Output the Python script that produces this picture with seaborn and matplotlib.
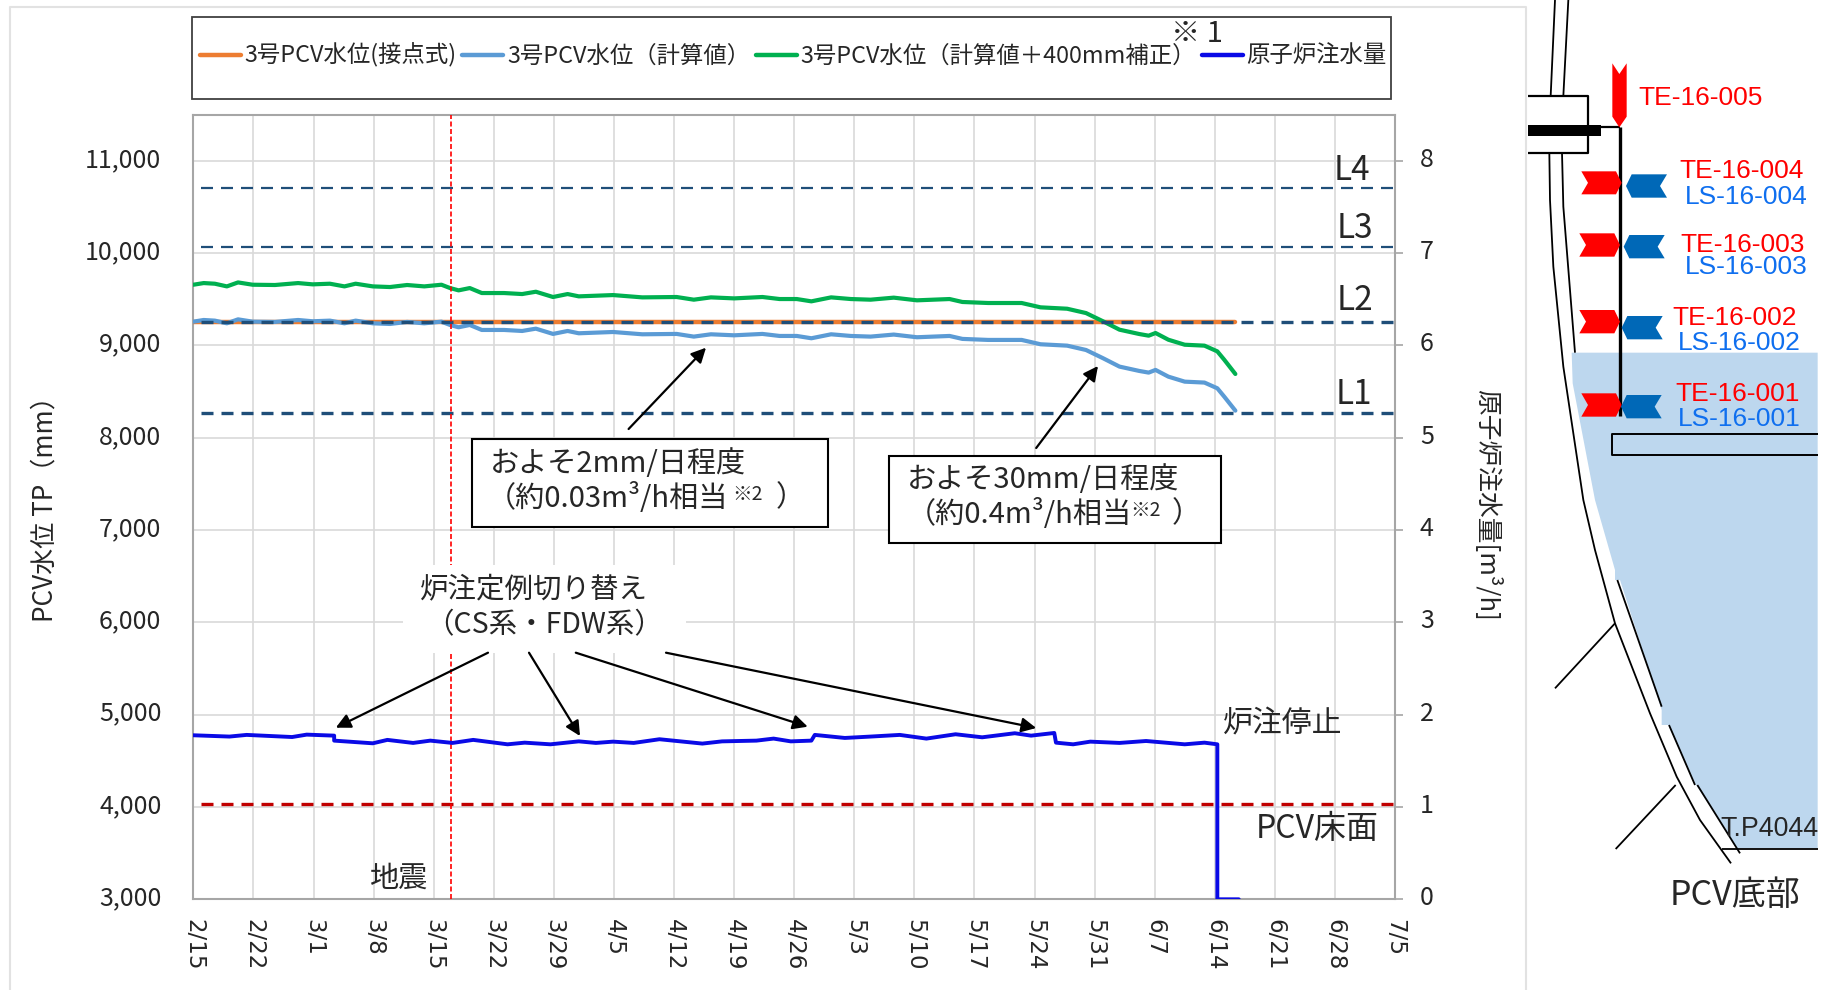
import matplotlib
matplotlib.use("Agg")
import matplotlib.pyplot as plt
from matplotlib.patches import Polygon, Rectangle
from matplotlib.transforms import ScaledTranslation
import pandas as pd
import seaborn as sns

# ---------- data ----------
START = "2021-02-15"
calc_days = [0, 1.2, 2.5, 3.9, 5.2, 6.9, 9.5, 12.2, 13.9, 15.9, 17.6, 18.9, 20.9, 22.9, 24.9, 26.9, 28.9, 29.9,
             30.9, 32.2, 33.6, 36.2, 38.3, 39.9, 41.9, 43.6, 44.9, 48.9, 52.3, 56.3, 58.3, 60.3, 63, 66.3, 68.3,
             70.3, 72, 74.3, 76.6, 78.9, 81.6, 84.3, 88.1, 89.6, 92.6, 96.5, 98.7, 101.8, 104, 106, 107.9, 110.2,
             111.3, 112.1, 113.6, 115.5, 117.8, 119.3, 120.1, 121.4]
calc_level = [9258, 9276, 9269, 9240, 9283, 9258, 9255, 9276, 9262, 9269, 9240, 9269, 9240, 9233, 9255, 9240, 9258, 9222,
              9197, 9222, 9168, 9168, 9157, 9182, 9125, 9157, 9132, 9146, 9121, 9125, 9096, 9121, 9110, 9125, 9103,
              9103, 9078, 9121, 9103, 9096, 9118, 9089, 9103, 9071, 9060, 9060, 9013, 8998, 8951, 8861, 8771, 8724,
              8706, 8735, 8662, 8608, 8598, 8536, 8446, 8294]
corrected_level = [9658, 9676, 9669, 9640, 9683, 9658, 9655, 9676, 9662, 9669, 9640, 9669, 9640, 9633, 9655, 9640, 9658, 9622,
                   9597, 9622, 9568, 9568, 9557, 9582, 9525, 9557, 9532, 9546, 9521, 9525, 9496, 9521, 9510, 9525, 9503,
                   9503, 9478, 9521, 9503, 9496, 9518, 9489, 9503, 9471, 9460, 9460, 9413, 9398, 9351, 9261, 9171, 9124,
                   9106, 9135, 9062, 9008, 8998, 8936, 8846, 8691]
contact_days = [0, 121.4]
contact_level = [9250, 9250]
flow_days = [0, 4.2, 6.2, 11.5, 13.2, 16.4, 16.4, 20.9, 22.6, 25.6, 27.6, 30.2, 32.6, 36.6, 38.6, 41.6, 44.9, 46.9, 48.9,
             51.3, 54.3, 59.3, 61.6, 65.6, 67.6, 69.6, 72, 72.4, 75.9, 78.9, 82.3, 85.4, 88.8, 91.9, 95.7, 97.6, 100.3,
             100.5, 102.5, 104.5, 107.9, 111, 115.5, 117.8, 119.3, 119.3, 121.8]
flow_rate = [1.777, 1.763, 1.781, 1.758, 1.784, 1.773, 1.719, 1.690, 1.727, 1.694, 1.719, 1.694, 1.727, 1.679, 1.697, 1.679,
             1.711, 1.694, 1.708, 1.694, 1.734, 1.687, 1.711, 1.719, 1.741, 1.711, 1.719, 1.781, 1.748, 1.763, 1.781, 1.741,
             1.788, 1.755, 1.799, 1.773, 1.802, 1.697, 1.679, 1.708, 1.694, 1.715, 1.679, 1.697, 1.679, 0, 0]
level_values = [8268, 9254, 10067, 10706]
level_names = ["L1", "L2", "L3", "L4"]
floor_level = 4032
quake_day = 30
tick_labels = ["2/15", "2/22", "3/1", "3/8", "3/15", "3/22", "3/29", "4/5", "4/12", "4/19", "4/26",
               "5/3", "5/10", "5/17", "5/24", "5/31", "6/7", "6/14", "6/21", "6/28", "7/5"]
series_names = ["3号PCV水位(接点式)", "3号PCV水位（計算値）", "3号PCV水位（計算値＋400mm補正）", "原子炉注水量"]

# ---------- figure ----------
sns.set_theme(style="white")
CJK = ["Noto Sans CJK JP", "DejaVu Sans"]
plt.rcParams["font.family"] = CJK
W, H = 1823, 990
fig = plt.figure(figsize=(W / 100, H / 100), dpi=100, facecolor="white")
L, R, T, B = 193.4, 1395, 114.7, 899.3
ax = fig.add_axes([L / W, (H - B) / H, (R - L) / W, (B - T) / H])
t0 = pd.Timestamp(START)
dates = lambda d: [t0 + pd.Timedelta(days=float(x)) for x in d]

ORANGE, LBLUE, GREEN, BLUE = "#ED7D31", "#5B9BD5", "#00B050", "#0A0AE6"
INK = "#262626"
contact = pd.DataFrame({"date": dates(contact_days), "v": contact_level})
calc = pd.DataFrame({"date": dates(calc_days), "calc": calc_level, "corr": corrected_level})
flow = pd.DataFrame({"date": dates(flow_days), "v": flow_rate})

sns.lineplot(data=contact, x="date", y="v", ax=ax, color=ORANGE, lw=3.2, estimator=None, sort=False,
             label=series_names[0], zorder=3)
sns.lineplot(data=calc, x="date", y="calc", ax=ax, color=LBLUE, lw=3.0, estimator=None, sort=False,
             label=series_names[1], zorder=4)
sns.lineplot(data=calc, x="date", y="corr", ax=ax, color=GREEN, lw=3.0, estimator=None, sort=False,
             label=series_names[2], zorder=4)

level_start = t0 + pd.Timedelta(days=0.9)
xmax = t0 + pd.Timedelta(days=140)
for v, lw in zip(level_values, [2.4, 2.4, 1.6, 1.6]):
    ax.hlines(v, level_start, xmax, color="#1F4E79", lw=lw, linestyles=[(0, (12 * 0.72 / lw, 8 * 0.72 / lw))], zorder=5)
ax.hlines(floor_level, level_start, xmax, color="#C00000", lw=2.4, linestyles=[(0, (3.6, 2.4))], zorder=5)
ax.axvline(t0 + pd.Timedelta(days=quake_day), color="#FF0000", lw=1.2, linestyle=(0, (3, 1.5)), zorder=5)

ax.set_xlim(t0, xmax)
ax.set_ylim(3000, 11500)
ax.set_yticks(range(3000, 11001, 1000))
ax.set_yticklabels([f"{v:,}" for v in range(3000, 11001, 1000)], fontsize=18, color=INK)
ticks = [t0 + pd.Timedelta(days=7 * i) for i in range(len(tick_labels))]
ax.set_xticks(ticks)
ax.set_xticklabels(tick_labels, rotation=270, ha="center", va="top", fontsize=16.5, family="DejaVu Sans", color=INK)
ax.tick_params(axis="x", length=0, pad=14)
ax.tick_params(axis="y", length=0, pad=23)
ax.grid(True, color="#D9D9D9", lw=1.2)
ax.set_axisbelow(True)
ax.set_xlabel("")
ax.set_ylabel("PCV水位 TP（mm）", fontsize=18.8, color=INK, va="center")
ax.yaxis.set_label_coords((45 - L) / (R - L), 0.506)
for s in ax.spines.values():
    s.set_visible(True)
    s.set_color("#A6A6A6")
    s.set_linewidth(1.5)

ax2 = ax.twinx()
sns.lineplot(data=flow, x="date", y="v", ax=ax2, color=BLUE, lw=2.8, estimator=None, sort=False,
             label=series_names[3], zorder=6)
ax2.set_ylim(0, 8.5)
ax2.set_yticks(range(0, 9))
ax2.set_yticklabels([str(i) for i in range(0, 9)], fontsize=18, color=INK)
ax2.tick_params(axis="y", length=6, width=1.2, color="#A6A6A6", pad=12, right=True)
ax2.set_xlabel("")
ax2.set_ylabel("原子炉注水量[m³/h]", fontsize=18.5, rotation=270, color=INK, va="center")
ax2.yaxis.set_label_coords((1487 - L) / (R - L), 0.502)
ax2.grid(False)
for s in ax2.spines.values():
    s.set_visible(False)
up = ScaledTranslation(0, 4 / 100, fig.dpi_scale_trans)
for lab in ax.get_yticklabels() + ax2.get_yticklabels():
    lab.set_transform(lab.get_transform() + up)

h1, l1 = ax.get_legend_handles_labels()
h2, l2 = ax2.get_legend_handles_labels()
ax.get_legend().remove()
ax2.get_legend().remove()

# ---------- overlay in picture pixels for notes and the diagram ----------
ov = fig.add_axes([0, 0, 1, 1], zorder=10)
ov.set_xlim(0, W)
ov.set_ylim(H, 0)
ov.axis("off")
ov.patch.set_alpha(0)

# outer panel
ov.plot([10, 10, 1526, 1526], [990, 7, 7, 990], color="#E2E2E2", lw=1.5)

# legend box
ov.add_patch(Rectangle((191.7, 17), 1199, 81.7, fc="white", ec="#404040", lw=1.3))
leg = ov.legend(h1 + h2, l1 + l2, ncol=4, frameon=False, loc="center left", fontsize=16.85,
                bbox_to_anchor=(193 / W, 1 - 55.5 / H), bbox_transform=fig.transFigure,
                handlelength=1.75, handletextpad=0.15, columnspacing=0.25, borderpad=0, borderaxespad=0.3,
                labelcolor=INK)
for ln in leg.get_lines():
    ln.set_linewidth(3.2)
ov.text(1197, 34, "※ 1", fontsize=21, ha="center", va="center", color=INK)

# white note behind the switching label
ov.add_patch(Rectangle((403, 565), 283, 88, fc="white", ec="none"))
ov.text(534, 589, "炉注定例切り替え", fontsize=20.5, ha="center", va="center", color=INK)
ov.text(544, 625, "（CS系・FDW系）", fontsize=20.5, ha="center", va="center", color=INK)

# boxes
for (x0, y0, x1, y1) in [(472.4, 439.3, 828.4, 526.7), (889.4, 456, 1221, 543.3)]:
    ov.add_patch(Rectangle((x0, y0), x1 - x0, y1 - y0, fc="white", ec="black", lw=1.5))
ov.text(490, 464, "およそ2mm/日程度", fontsize=21, va="center", color=INK)
ov.text(487, 498, "（約0.03m³/h相当", fontsize=21, va="center", color=INK)
ov.text(732, 494, "※2", fontsize=14, va="center", color=INK)
ov.text(776, 498, "）", fontsize=21, va="center", color=INK)
ov.text(907, 480, "およそ30mm/日程度", fontsize=21, va="center", color=INK)
ov.text(907, 514, "（約0.4m³/h相当", fontsize=21, va="center", color=INK)
ov.text(1130, 510, "※2", fontsize=14, va="center", color=INK)
ov.text(1172, 514, "）", fontsize=21, va="center", color=INK)

# arrows
for a, b in [((488, 652.7), (335.8, 727.7)), ((529, 652.7), (580, 736)), ((575.8, 652.7), (807.7, 726.7)),
             ((666, 652.7), (1036.2, 728)), ((628.6, 429), (706, 347.7)), ((1036.2, 448), (1098, 366))]:
    ov.annotate("", xy=b, xytext=a, arrowprops=dict(arrowstyle="-|>", color="black", lw=1.6, mutation_scale=22,
                                                    shrinkA=0, shrinkB=0))

# level labels and notes
for name, (x, y) in zip(level_names, [(1354, 395), (1355, 300), (1355, 229), (1352, 171)]):
    ov.text(x, y, name, fontsize=24, ha="center", va="center", color=INK)
ov.text(1283, 724, "炉注停止", fontsize=21.5, ha="center", va="center", color=INK)
ov.text(1317, 829, "PCV床面", fontsize=23, ha="center", va="center", color=INK)
ov.text(398, 879, "地震", fontsize=21, ha="center", va="center", color=INK)

# ---------- PCV diagram (zoom coordinates: x = 1520 + X/3, y = Y/3) ----------
def top(pts):
    return [(1520 + x / 3, y / 3) for x, y in pts]
def low(pts):
    return [(1520 + x / 3, 490 + y / 3) for x, y in pts]

water = top([(893, 1058), (155, 1058), (158, 1150), (225, 1500)]) + \
        low([(285, 240), (285, 270), (300, 270), (425, 660), (425, 705), (445, 705), (525, 880), (605, 1000), (650, 1075), (893, 1075)])
ov.add_patch(Polygon(water, closed=True, fc="#BDD7EE", ec="none", zorder=1))

def line(pts, lw=1.3, color="black", z=2):
    ov.plot([p[0] for p in pts], [p[1] for p in pts], color=color, lw=lw, zorder=z, solid_capstyle="butt")

line(top([(105, 0), (92, 288)]))
line(top([(145, 0), (130, 288)]))
line(top([(88, 458), (90, 600), (100, 800), (130, 1100), (190, 1500)]) +
     low([(225, 180), (285, 400), (390, 670), (470, 860), (540, 990), (633, 1120)]))
line(top([(126, 458), (130, 620), (165, 1058)]))
line(low([(292, 270), (425, 650)]))
line(low([(447, 705), (525, 885)]))
line(low([(532, 885), (660, 1090)]))
line(low([(285, 400), (105, 595)]))
line(low([(467, 885), (287, 1077)]))
line(low([(607, 1077), (893, 1077)]))
# flange and tube
line(top([(23, 288), (205, 288), (205, 458), (23, 458)]), lw=1.6)
ov.add_patch(Rectangle((1520 + 23 / 3, 375 / 3), 220 / 3, 32 / 3, fc="black", ec="none", zorder=3))
line(top([(205, 380), (300, 380)]), lw=1.6)
line(top([(300, 380), (300, 1248)]), lw=2.4, z=3)
# inner box
line(top([(893, 1302), (275, 1302), (275, 1365), (893, 1365)]), lw=1.4)

RED, DBLUE = "#FF0000", "#0068B7"
ov.add_patch(Polygon(top([(277, 190), (298, 222), (320, 190), (320, 350), (298, 382), (277, 350)]), fc=RED, ec="none", zorder=4))
for (x0, x1, y0, y1) in [(184, 305, 514, 583), (178, 300, 700, 770), (178, 300, 930, 1000), (184, 305, 1180, 1250)]:
    ym = (y0 + y1) / 2
    ov.add_patch(Polygon(top([(x0, y0), (x1 - 17, y0), (x1, ym), (x1 - 17, y1), (x0, y1), (x0 + 20, ym)]), fc=RED, ec="none", zorder=4))
for (x0, x1, y0, y1) in [(318, 441, 523, 593), (311, 434, 705, 775), (305, 428, 948, 1018), (303, 425, 1185, 1255)]:
    ym = (y0 + y1) / 2
    ov.add_patch(Polygon(top([(x1, y0), (x0 + 17, y0), (x0, ym), (x0 + 17, y1), (x1, y1), (x1 - 21, ym)]), fc=DBLUE, ec="none", zorder=4))

te = [("TE-16-005", 355, 293), ("TE-16-004", 478, 514), ("TE-16-003", 480, 734), ("TE-16-002", 458, 953), ("TE-16-001", 465, 1181)]
ls = [("LS-16-004", 495, 591), ("LS-16-003", 495, 801), ("LS-16-002", 475, 1028), ("LS-16-001", 473, 1256)]
for s, x, y in te:
    ov.text(1520 + x / 3, y / 3, s, family="Liberation Sans", fontsize=19, color="#FF0000", va="center", zorder=5)
for s, x, y in ls:
    ov.text(1520 + x / 3, y / 3, s, family="Liberation Sans", fontsize=19, color="#0F6FEF", va="center", zorder=5)
ov.text(1720, 829, "T.P4044", family="Liberation Sans", fontsize=19.3, color=INK, va="center", zorder=5)
ov.text(1735, 895, "PCV底部", fontsize=24.5, ha="center", va="center", color=INK, zorder=5)

fig.savefig("out.png", dpi=100)
